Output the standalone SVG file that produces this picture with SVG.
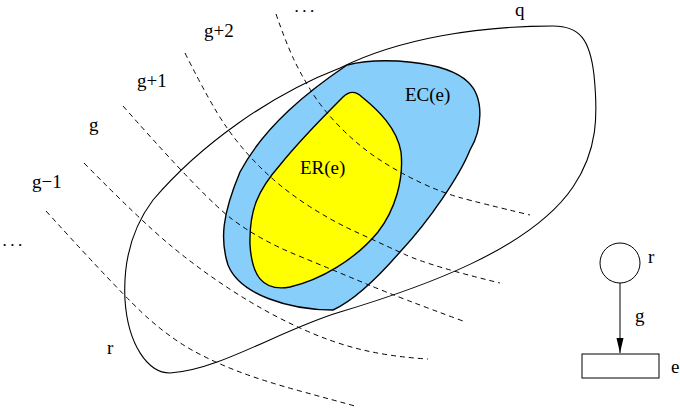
<svg xmlns="http://www.w3.org/2000/svg" width="680" height="416" viewBox="0 0 680 416">
<style>
  text { font-family: "Liberation Serif", "Times New Roman", serif; font-size: 19px; fill: #000; }
  .dots { font-size: 13px; font-weight: bold; letter-spacing: 4.5px; }
  .outline { fill: none; stroke: #000; stroke-width: 1.1; }
  .region { stroke: #000; stroke-width: 1.4; stroke-linejoin: round; }
  .dash { fill: none; stroke: #000; stroke-width: 1; stroke-dasharray: 5 4; }
</style>
<defs>
  <marker id="arrowhead" markerWidth="16" markerHeight="8" refX="15" refY="3.5" orient="auto" markerUnits="userSpaceOnUse" viewBox="0 0 16 8">
    <path d="M0,0 L15,3.5 L0,7 Z" fill="#000"/>
  </marker>
</defs>
<rect width="680" height="416" fill="#fff"/>

<g id="q">
  <path class="outline" d="M170,373 C148,373 128,345 125,300 C123,262 132,228 153,200 C200,145 270,95 340,68 C400,38 480,26 553,26 C580,26 590,40 594,75 C598,115 598,150 573,187 C530,250 420,288 340,312 C280,330 220,370 170,373 Z"/>
  <text x="515" y="16">q</text>
  <text x="107" y="354">r</text>
</g>

<g id="EC">
  <path class="region" fill="#87CEFA" d="M347,65 C380,57 445,60 468,82 C485,98 482,130 470,150 C460,175 430,220 400,252 C380,275 355,300 333,310 C290,310 240,295 228,265 C220,240 222,215 240,172 C265,125 310,90 347,65 Z"/>
  <text x="405" y="101">EC(e)</text>
</g>

<g id="ER">
  <path class="region" fill="#FFFF00" d="M343,97 C349,91 356,91 362,97 C378,110 397,128 401,152 C404,180 395,210 378,232 C355,260 320,280 290,287 C262,292 252,275 250,245 C249,210 258,190 280,165 C300,140 325,115 343,97 Z"/>
  <text x="300" y="174">ER(e)</text>
</g>

<g id="levels">
  <path class="dash" d="M276,14 Q285,40 292.5,56.5 Q300,73 311.5,91.5 Q323,110 341.5,128.5 Q360,147 380,160 Q400,173 421.5,183 Q443,193 461.5,198 Q480,203 530,215"/>
  <path class="dash" d="M185,53 Q210,103 225,125 Q240,147 260,167 Q280,187 305,203.5 Q330,220 355,231.5 Q380,243 405,254.5 Q430,266 500,283"/>
  <path class="dash" d="M123,106 Q205,199 232.5,219.5 Q260,240 296.5,255 Q333,270 366.5,284 Q400,298 463,321"/>
  <path class="dash" d="M84,163 Q140,220 170,245 Q200,270 233.5,291.5 Q267,313 300,328 Q333,343 363,350 Q393,357 428,359"/>
  <path class="dash" d="M46,211 Q125,298 149,319 Q173,340 195.5,352 Q218,364 242.5,373 Q267,382 300,391 Q333,400 355,406"/>
  <text class="dots" x="295" y="12">...</text>
  <text x="204" y="37">g+2</text>
  <text x="137" y="87">g+1</text>
  <text x="89" y="131">g</text>
  <text x="32" y="188">g−1</text>
  <text class="dots" x="3" y="246">...</text>
</g>

<g id="r">
  <circle cx="620" cy="263" r="20" fill="#fff" stroke="#000" stroke-width="1"/>
  <text x="648" y="263">r</text>
</g>

<g id="e">
  <rect x="582" y="354" width="77" height="24" fill="#fff" stroke="#000" stroke-width="1"/>
  <text x="671" y="373">e</text>
</g>

<g id="connectors">
  <line x1="620" y1="283" x2="620" y2="353" stroke="#000" stroke-width="1" marker-end="url(#arrowhead)"/>
  <text x="635" y="322">g</text>
</g>
</svg>
